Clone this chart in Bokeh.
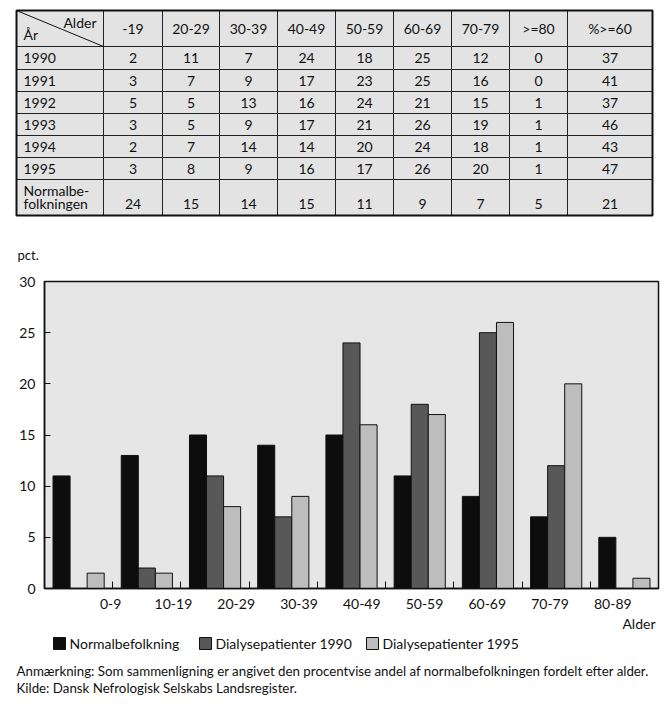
from bokeh.plotting import figure
from bokeh.models import Range1d, FixedTicker
from bokeh.layouts import column
from bokeh.core.properties import value
from bokeh.embed import file_html
from bokeh.resources import INLINE
import numpy as np

FONT = "Lato"

# ---------------- table data ----------------
table_header = ["-19", "20-29", "30-39", "40-49", "50-59", "60-69", "70-79", ">=80", "%>=60"]
table_years = ["1990", "1991", "1992", "1993", "1994", "1995"]
row_1990 = [2, 11, 7, 24, 18, 25, 12, 0, 37]
row_1991 = [3, 7, 9, 17, 23, 25, 16, 0, 41]
row_1992 = [5, 5, 13, 16, 24, 21, 15, 1, 37]
row_1993 = [3, 5, 9, 17, 21, 26, 19, 1, 46]
row_1994 = [2, 7, 14, 14, 20, 24, 18, 1, 43]
row_1995 = [3, 8, 9, 16, 17, 26, 20, 1, 47]
row_normal = [24, 15, 14, 15, 11, 9, 7, 5, 21]
normal_label = ["Normalbe-", "folkningen"]

# ---------------- chart data ----------------
age_groups = ["0-9", "10-19", "20-29", "30-39", "40-49", "50-59", "60-69", "70-79", "80-89"]
normalbefolkning = [11, 13, 15, 14, 15, 11, 9, 7, 5]
dialyse_1990 = [0, 2, 11, 7, 24, 18, 25, 12, 0]
dialyse_1995 = [1.5, 1.5, 8, 9, 16, 17, 26, 20, 1]
y_ticks = [0, 5, 10, 15, 20, 25, 30]
series_names = ["Normalbefolkning", "Dialysepatienter 1990", "Dialysepatienter 1995"]
series_colors = ["#0d0d0d", "#585858", "#bdbdbd"]
note_lines = ["Anmærkning: Som sammenligning er angivet den procentvise andel af normalbefolkningen fordelt efter alder.",
              "Kilde: Dansk Nefrologisk Selskabs Landsregister."]

W = 670


def plain_fig(h):
    f = figure(width=W, height=h, x_range=Range1d(0, W), y_range=Range1d(h, 0),
               output_backend="svg", toolbar_location=None, min_border=0)
    f.axis.visible = False
    f.grid.visible = False
    f.outline_line_color = None
    f.background_fill_color = "white"
    f.border_fill_color = "white"
    if "frame_align" in f.properties():
        f.frame_align = False
    return f


tf = dict(text_font=value(FONT), text_font_size="14px", text_color="#111111")

# ================= TABLE FIGURE (also holds "pct.") =================
TH = 265
t = plain_fig(TH)

col_edges = [16, 103, 162, 219, 277, 335, 393, 451, 509, 567, 652]
row_edges = [10, 46, 69, 91, 113, 135, 157, 179, 215]
n_rows = len(row_edges) - 1
n_cols = len(col_edges) - 1

L, R, T, B = [], [], [], []
for r in range(n_rows):
    for c in range(n_cols):
        L.append(col_edges[c]); R.append(col_edges[c + 1])
        T.append(row_edges[r]); B.append(row_edges[r + 1])
t.quad(left=L, right=R, top=T, bottom=B, fill_color="#e3e3e3",
       line_color="#222222", line_width=1)
t.quad(left=[col_edges[0]], right=[col_edges[-1]], top=[row_edges[0]], bottom=[row_edges[-1]],
       fill_color=None, line_color="#111111", line_width=2)
t.line([col_edges[0], col_edges[1]], [row_edges[0], row_edges[1]], line_color="#111111", line_width=1)

col_centers = [(col_edges[i] + col_edges[i + 1]) / 2 for i in range(n_cols)]
row_centers = [(row_edges[i] + row_edges[i + 1]) / 2 for i in range(n_rows)]

t.text(x=col_centers[1:], y=[row_centers[0]] * len(table_header), text=table_header,
       text_align="center", text_baseline="middle", **tf)
t.text(x=[col_edges[1] - 7], y=[row_edges[0] + 12], text=["Alder"],
       text_align="right", text_baseline="middle", **tf)
t.text(x=[col_edges[0] + 7], y=[row_edges[1] - 12], text=["År"],
       text_align="left", text_baseline="middle", **tf)

rows = [row_1990, row_1991, row_1992, row_1993, row_1994, row_1995]
for i, (yr, vals) in enumerate(zip(table_years, rows)):
    yc = row_centers[i + 1]
    t.text(x=[col_edges[0] + 7], y=[yc], text=[yr], text_align="left", text_baseline="middle", **tf)
    t.text(x=col_centers[1:], y=[yc] * len(vals), text=[str(v) for v in vals],
           text_align="center", text_baseline="middle", **tf)

yb = row_edges[-1] - 12
t.text(x=[col_edges[0] + 7, col_edges[0] + 7], y=[yb - 13, yb], text=normal_label,
       text_align="left", text_baseline="middle", **tf)
t.text(x=col_centers[1:], y=[yb] * len(row_normal), text=[str(v) for v in row_normal],
       text_align="center", text_baseline="middle", **tf)

t.text(x=[17], y=[254], text=["pct."], text_align="left", text_baseline="middle",
       text_font=value(FONT), text_font_size="13px", text_color="#111111")

# ================= CHART FIGURE =================
CH = 350
p = figure(width=W, height=CH, x_range=Range1d(0, len(age_groups)), y_range=Range1d(0, 30),
           output_backend="svg", toolbar_location=None,
           min_border_left=44, min_border_right=12, min_border_top=16, min_border_bottom=27)
if "frame_align" in p.properties():
    p.frame_align = False
p.grid.visible = False
p.background_fill_color = "#e6e6e6"
p.border_fill_color = "white"
p.outline_line_color = "#111111"
p.outline_line_width = 1.5

idx = np.arange(len(age_groups))
bw = 0.25
for k, vals in enumerate([normalbefolkning, dialyse_1990, dialyse_1995]):
    p.vbar(x=idx + 0.25 * (k + 1), top=vals, width=bw, fill_color=series_colors[k],
           line_color="#111111", line_width=1)

label_pos = [round(0.97 + 0.92 * k, 2) for k in range(len(age_groups))]
p.xaxis.ticker = FixedTicker(ticks=label_pos, minor_ticks=list(range(1, len(age_groups))))
p.xaxis.major_label_overrides = {pos: lab for pos, lab in zip(label_pos, age_groups)}
p.xaxis.major_tick_line_color = None
p.xaxis.minor_tick_in = 7
p.xaxis.minor_tick_out = 0
p.xaxis.minor_tick_line_color = "#111111"
p.xaxis.axis_line_color = "#111111"
p.xaxis.axis_line_width = 1.5
p.xaxis.major_label_standoff = 4
p.xaxis.major_label_text_font = FONT
p.xaxis.major_label_text_font_size = "14px"
p.xaxis.major_label_text_color = "#111111"

p.yaxis.ticker = FixedTicker(ticks=y_ticks)
p.yaxis.major_tick_in = 6
p.yaxis.major_tick_out = 0
p.yaxis.minor_tick_line_color = None
p.yaxis.major_tick_line_color = "#111111"
p.yaxis.axis_line_color = "#111111"
p.yaxis.axis_line_width = 1.5
p.yaxis.major_label_standoff = 9
p.yaxis.major_label_text_font = FONT
p.yaxis.major_label_text_font_size = "14px"
p.yaxis.major_label_text_color = "#111111"

# ================= BOTTOM FIGURE (Alder, legend, notes) =================
BH = 85
b = plain_fig(BH)
y0 = TH + CH  # page offset of this figure
b.text(x=[655], y=[623 - y0], text=["Alder"], text_align="right", text_baseline="middle", **tf)

sw_x = [53, 199, 366]
ly = 643 - y0
b.quad(left=sw_x, right=[x + 12 for x in sw_x], top=[ly - 6] * 3, bottom=[ly + 6] * 3,
       fill_color=series_colors, line_color="#111111", line_width=1)
b.text(x=[x + 16 for x in sw_x], y=[ly] * 3, text=series_names, text_align="left",
       text_baseline="middle", **tf)

b.text(x=[16, 16], y=[670 - y0, 687 - y0], text=note_lines, text_align="left",
       text_baseline="middle", text_font=value(FONT), text_font_size="13.3px", text_color="#111111")

layout = column(t, p, b, spacing=0)
open("out.html", "w").write(file_html(layout, INLINE))
